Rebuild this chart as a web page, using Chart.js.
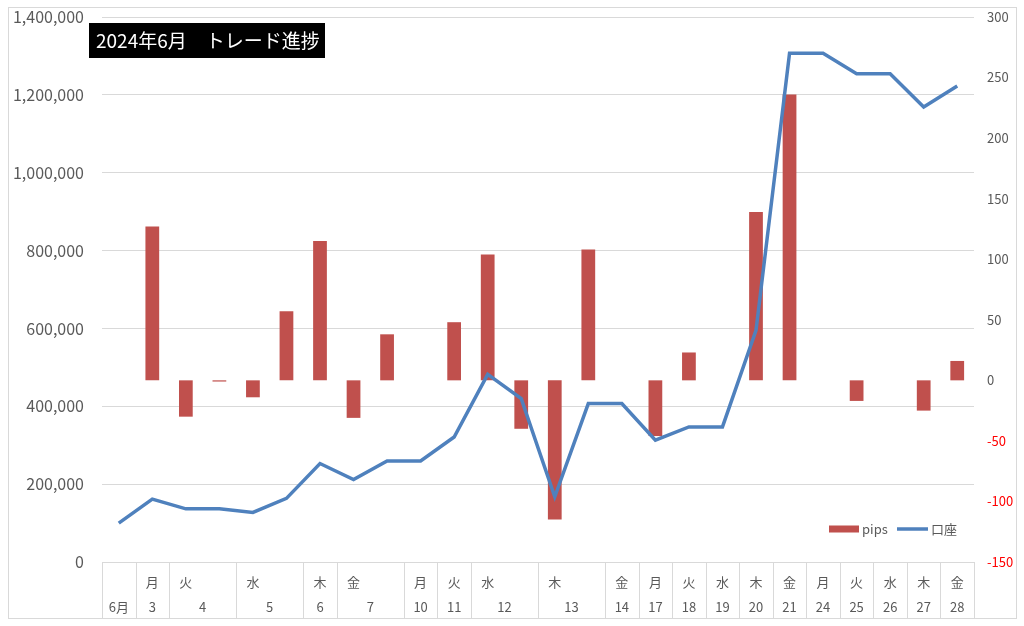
<!DOCTYPE html>
<html><head><meta charset="utf-8">
<script src="https://cdn.jsdelivr.net/npm/chart.js@4.4.0/dist/chart.umd.min.js"></script>
<style>html,body{margin:0;padding:0;background:#fff}#wrap{width:1024px;height:626px}</style>
</head><body><div id="wrap"><canvas id="c" width="1024" height="626"></canvas></div>
<script>
// ---- data ----
const days = ['', '月', '火', '', '水', '', '木', '金', '', '月', '火', '水', '', '木', '', '金', '月', '火', '水', '木', '金', '月', '火', '水', '木', '金'];
const dateLabels = ['6月', '3', '4', '5', '6', '7', '10', '11', '12', '13', '14', '17', '18', '19', '20', '21', '24', '25', '26', '27', '28'];
const dateSpans  = [1, 1, 2, 2, 1, 2, 1, 1, 2, 2, 1, 1, 1, 1, 1, 1, 1, 1, 1, 1, 1];
const pips = [null, 127, -30, -1, -14, 57, 115, -31, 38, null, 48, 104, -40, -115, 108, null, -46, 23, null, 139, 236, null, -17, null, -25, 16];
const balance = [100000, 161500, 136500, 136500, 127500, 163500, 253000, 212000, 259500, 259500, 321000, 482000, 419500, 167500, 407000, 407000, 313000, 347000, 347000, 595000, 1307000, 1307000, 1254500, 1254500, 1169000, 1223000];
const seriesNames = ['pips', '口座'];
const titleText = '2024年6月　トレード進捗';

const FONT = "'Noto Sans CJK JP', 'Noto Sans', sans-serif";
const GRAY = '#595959';
const GRID = '#D9D9D9';
const RED = '#C0504D';
const BLUE = '#4F81BD';

const framePlugin = {
  id: 'frame',
  beforeDraw(chart) {
    const ctx = chart.ctx;
    ctx.save();
    ctx.fillStyle = '#fff';
    ctx.fillRect(0, 0, chart.width, chart.height);
    ctx.strokeStyle = GRID;
    ctx.lineWidth = 1;
    ctx.strokeRect(8.5, 7.5, 1008, 611);
    ctx.restore();
  }
};

const groupPlugin = {
  id: 'groups',
  afterDraw(chart) {
    const ctx = chart.ctx;
    const xs = chart.scales.x;
    const area = chart.chartArea;
    const half = (xs.getPixelForValue(1) - xs.getPixelForValue(0)) / 2;
    ctx.save();
    ctx.strokeStyle = GRID;
    ctx.lineWidth = 1;
    ctx.beginPath();
    ctx.moveTo(area.left, Math.round(area.bottom) + 0.5);
    ctx.lineTo(area.right, Math.round(area.bottom) + 0.5);
    let idx = 0;
    const bounds = [idx];
    dateSpans.forEach(s => { idx += s; bounds.push(idx); });
    bounds.forEach(b => {
      const px = Math.round(xs.getPixelForValue(b) - half) + 0.5;
      ctx.moveTo(px, area.bottom);
      ctx.lineTo(px, 618);
    });
    ctx.stroke();
    ctx.fillStyle = GRAY;
    ctx.font = "13px " + FONT;
    ctx.textAlign = 'center';
    ctx.textBaseline = 'middle';
    let start = 0;
    dateLabels.forEach((lab, i) => {
      const s = dateSpans[i];
      const cx = (xs.getPixelForValue(start) + xs.getPixelForValue(start + s - 1)) / 2;
      ctx.fillText(lab, cx, 607);
      start += s;
    });
    ctx.restore();
  }
};

const titlePlugin = {
  id: 'titlebox',
  afterDraw(chart) {
    const ctx = chart.ctx;
    ctx.save();
    ctx.fillStyle = '#000';
    ctx.fillRect(89, 23, 236, 35);
    ctx.fillStyle = '#fff';
    ctx.font = "19px " + FONT;
    ctx.textAlign = 'left';
    ctx.textBaseline = 'middle';
    ctx.fillText(titleText, 96, 41);
    ctx.restore();
  }
};

const legendPlugin = {
  id: 'customLegend',
  afterDraw(chart) {
    const ctx = chart.ctx;
    const ds = chart.data.datasets;
    ctx.save();
    ctx.font = "13px " + FONT;
    ctx.textBaseline = 'middle';
    ctx.textAlign = 'left';
    const y = 529;
    ctx.fillStyle = ds[0].backgroundColor;
    ctx.fillRect(829, y - 3.5, 30, 7);
    ctx.fillStyle = GRAY;
    ctx.fillText(ds[0].label, 862, y);
    ctx.strokeStyle = ds[1].borderColor;
    ctx.lineWidth = 3.5;
    ctx.beginPath();
    ctx.moveTo(897, y);
    ctx.lineTo(928, y);
    ctx.stroke();
    ctx.fillStyle = GRAY;
    ctx.fillText(ds[1].label, 931, y);
    ctx.restore();
  }
};

new Chart(document.getElementById('c'), {
  data: {
    labels: days,
    datasets: [
      { type: 'bar', label: seriesNames[0], data: pips, yAxisID: 'y1', backgroundColor: RED, borderWidth: 0, barPercentage: 0.41, categoryPercentage: 1, order: 2 },
      { type: 'line', label: seriesNames[1], data: balance, yAxisID: 'y', borderColor: BLUE, borderWidth: 3.5, pointRadius: 0, tension: 0, fill: false, order: 1 }
    ]
  },
  options: {
    responsive: false,
    animation: false,
    layout: { padding: { top: 17, left: 0, right: 0, bottom: 0 } },
    plugins: { legend: { display: false }, tooltip: { enabled: false }, title: { display: false } },
    scales: {
      x: {
        type: 'category',
        grid: { display: false, drawTicks: false },
        border: { display: false },
        ticks: { color: GRAY, font: { family: FONT, size: 13 }, padding: 12, autoSkip: false, maxRotation: 0 },
        afterFit(s) { s.height = 64; s.paddingLeft = 0; s.paddingRight = 0; }
      },
      y: {
        type: 'linear', position: 'left', min: 0, max: 1400000,
        grid: { color: GRID, drawTicks: false },
        border: { display: false },
        ticks: { stepSize: 200000, color: GRAY, font: { family: FONT, size: 16 }, padding: 18,
          callback: v => v.toLocaleString('en-US') },
        afterFit(s) { s.width = 102; s.paddingTop = 0; s.paddingBottom = 0; }
      },
      y1: {
        type: 'linear', position: 'right', min: -150, max: 300,
        grid: { display: false, drawTicks: false },
        border: { display: false },
        ticks: { stepSize: 50, font: { family: FONT, size: 13 }, padding: 13,
          color: c => (c.tick && c.tick.value < 0) ? '#FF0000' : GRAY },
        afterFit(s) { s.width = 50; s.paddingTop = 0; s.paddingBottom = 0; }
      }
    }
  },
  plugins: [framePlugin, groupPlugin, titlePlugin, legendPlugin]
});
</script></body></html>
